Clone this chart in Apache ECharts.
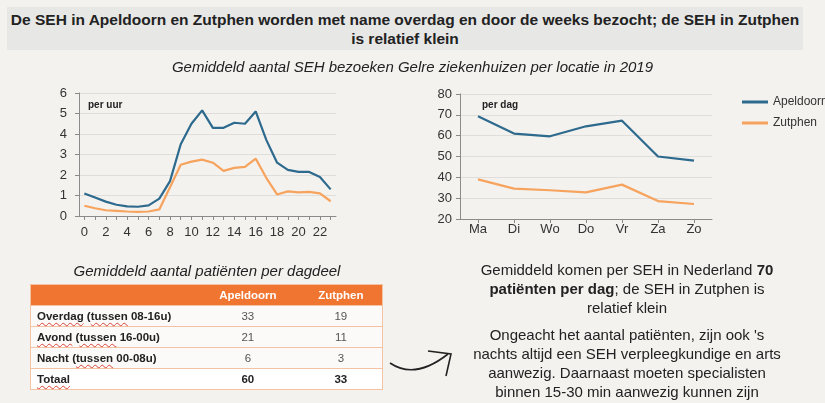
<!DOCTYPE html>
<html>
<head>
<meta charset="utf-8">
<script src="https://cdn.jsdelivr.net/npm/echarts@6/dist/echarts.min.js"></script>
<style>
  html, body { margin: 0; padding: 0; }
  body {
    width: 825px; height: 403px; overflow: hidden; position: relative;
    background: #f4f2ef; font-family: "Liberation Sans", Arial, sans-serif; color: #222;
  }
  #chart { position: absolute; left: 0; top: 0; width: 825px; height: 403px; }
  .kop {
    position: absolute; left: 7px; top: 7px; width: 796px; height: 43px;
    background: #e7e7e6; text-align: center; font-weight: bold; font-size: 15.5px; line-height: 19px;
    padding-top: 3px; box-sizing: border-box; white-space: nowrap;
  }
  .sub { position: absolute; text-align: center; font-style: italic; font-size: 15px; white-space: nowrap; }
  .tag { position: absolute; font-weight: bold; font-size: 10px; }
  table {
    position: absolute; left: 30px; top: 284px; width: 353px; border-collapse: collapse;
    font-size: 11.5px; border: 1px solid #f3c3a4;
  }
  th { background: #f07530; color: #fff; height: 20px; padding: 0; font-weight: bold; text-align: center; }
  td { height: 20px; padding: 0; border-top: 1px solid #f3c3a4; text-align: center; color: #555; background: #fbfaf8; }
  td.lbl { text-align: left; padding-left: 6px; color: #222; font-weight: bold; }
  tr.tot td { font-weight: bold; color: #222; background: #fff; }
  .sq { text-decoration: underline wavy #d9433a; text-decoration-thickness: 1px; text-underline-offset: 2px; }
  .info { position: absolute; left: 427px; width: 400px; text-align: center; font-size: 15px; line-height: 19px; color: #222; white-space: nowrap; }
  svg { position: absolute; left: 0; top: 0; }
</style>
</head>
<body>
<div id="chart"></div>
<div class="kop">De SEH in Apeldoorn en Zutphen worden met name overdag en door de weeks bezocht; de SEH in Zutphen<br>is relatief klein</div>
<div class="sub" style="top:58px; left:0; width:825px">Gemiddeld aantal SEH bezoeken Gelre ziekenhuizen per locatie in 2019</div>
<div class="tag" style="left:88px; top:99px">per uur</div>
<div class="tag" style="left:482px; top:99px">per dag</div>
<div class="sub" style="top:262px; left:7px; width:400px">Gemiddeld aantal patiënten per dagdeel</div>
<table id="tabel"></table>
<div class="info" style="top:260px">Gemiddeld komen per SEH in Nederland <b>70</b><br><b>patiënten per dag</b>; de SEH in Zutphen is<br>relatief klein</div>
<div class="info" style="top:325px">Ongeacht het aantal patiënten, zijn ook 's<br>nachts altijd een SEH verpleegkundige en arts<br>aanwezig. Daarnaast moeten specialisten<br>binnen 15-30 min aanwezig kunnen zijn</div>
<svg width="825" height="403">
  <path d="M390 363 Q415 380 448 354" fill="none" stroke="#222" stroke-width="1.6"/>
  <path d="M428 351 L451 354 L446 376" fill="none" stroke="#222" stroke-width="1.6"/>
</svg>
<script>
const hours = ["0","1","2","3","4","5","6","7","8","9","10","11","12","13","14","15","16","17","18","19","20","21","22","23"];
const apeldoornPerUur = [1.1, 0.9, 0.7, 0.55, 0.47, 0.45, 0.52, 0.85, 1.7, 3.5, 4.5, 5.15, 4.3, 4.3, 4.55, 4.5, 5.1, 3.7, 2.6, 2.25, 2.15, 2.15, 1.9, 1.3];
const zutphenPerUur = [0.5, 0.38, 0.28, 0.25, 0.22, 0.2, 0.22, 0.32, 1.4, 2.5, 2.65, 2.75, 2.6, 2.2, 2.35, 2.4, 2.8, 1.85, 1.05, 1.2, 1.15, 1.18, 1.1, 0.72];
const days = ["Ma","Di","Wo","Do","Vr","Za","Zo"];
const apeldoornPerDag = [69.3, 61, 59.7, 64.5, 67.2, 50, 48];
const zutphenPerDag = [39, 34.6, 33.8, 32.8, 36.5, 28.6, 27.2];
const dagdelen = ["Overdag (tussen 08-16u)", "Avond (tussen 16-00u)", "Nacht (tussen 00-08u)", "Totaal"];
const apeldoornDagdeel = [33, 21, 6, 60];
const zutphenDagdeel = [19, 11, 3, 33];
const squiggly = ["Overdag", "Avond", "tussen", "Totaal"];

const blue = "#2d6a8d";
const orange = "#f6a35e";

// table from the arrays
const tabel = document.getElementById("tabel");
let rows = '<tr><th style="width:165px"></th><th>Apeldoorn</th><th>Zutphen</th></tr>';
dagdelen.forEach((label, i) => {
  const html = label.split(" ").map((w) => {
    const bare = w.replace("(", "");
    return squiggly.includes(bare) ? w.replace(bare, '<span class="sq">' + bare + "</span>") : w;
  }).join(" ");
  rows += '<tr class="' + (i === dagdelen.length - 1 ? "tot" : "") + '"><td class="lbl">' + html +
    "</td><td>" + apeldoornDagdeel[i] + "</td><td>" + zutphenDagdeel[i] + "</td></tr>";
});
tabel.innerHTML = rows;

const axisColor = "#8a8a8a";
const labelStyle = { color: "#333", fontSize: 13, fontFamily: "Liberation Sans, Arial" };

function valueAxis(gridIndex, min, max, interval, margin) {
  return {
    type: "value", gridIndex, min, max, interval,
    axisLine: { show: true, lineStyle: { color: axisColor } },
    axisTick: { show: true, length: 4, lineStyle: { color: axisColor } },
    axisLabel: { ...labelStyle, margin },
    splitLine: { lineStyle: { color: "#e0dedb" } }
  };
}

function categoryAxis(gridIndex, data, labelInterval, margin) {
  return {
    type: "category", gridIndex, data, boundaryGap: true,
    axisLine: { lineStyle: { color: axisColor } },
    axisTick: { show: true, interval: 0, alignWithLabel: true, length: 4, lineStyle: { color: axisColor } },
    axisLabel: { ...labelStyle, interval: labelInterval, margin }
  };
}

function lineSeries(name, data, color, axisIndex) {
  return {
    name, type: "line", data, xAxisIndex: axisIndex, yAxisIndex: axisIndex,
    showSymbol: false, symbol: "none", lineStyle: { color, width: 2.2 }, itemStyle: { color }
  };
}

const chart = echarts.init(document.getElementById("chart"), null, { renderer: "canvas" });
chart.setOption({
  animation: false,
  backgroundColor: "transparent",
  grid: [
    { left: 79, right: 489, top: 93, bottom: 187 },
    { left: 460, right: 113, top: 94, bottom: 184 }
  ],
  xAxis: [categoryAxis(0, hours, 1, 10), categoryAxis(1, days, 0, 4)],
  yAxis: [valueAxis(0, 0, 6, 1, 12), valueAxis(1, 20, 80, 10, 8)],
  legend: {
    orient: "vertical", left: 737, top: 91, itemWidth: 26, itemHeight: 3, itemGap: 9,
    icon: "rect", textStyle: { color: "#333", fontSize: 12, fontFamily: "Liberation Sans, Arial" },
    data: ["Apeldoorn", "Zutphen"]
  },
  series: [
    lineSeries("Apeldoorn", apeldoornPerUur, blue, 0),
    lineSeries("Zutphen", zutphenPerUur, orange, 0),
    lineSeries("Apeldoorn", apeldoornPerDag, blue, 1),
    lineSeries("Zutphen", zutphenPerDag, orange, 1)
  ]
});
</script>
</body>
</html>
